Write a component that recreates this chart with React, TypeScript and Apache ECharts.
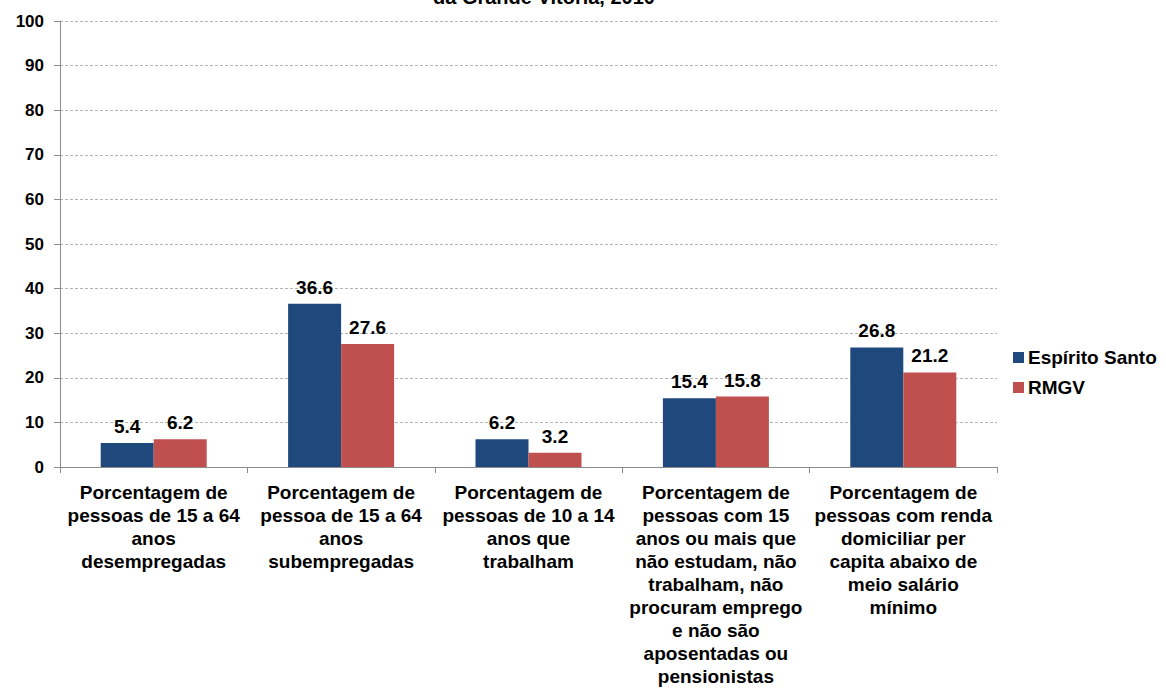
import React, { useEffect, useRef } from "react";
import * as echarts from "echarts";

const categories = [
  "Porcentagem de\npessoas de 15 a 64\nanos\ndesempregadas",
  "Porcentagem de\npessoa de 15 a 64\nanos\nsubempregadas",
  "Porcentagem de\npessoas de 10 a 14\nanos que\ntrabalham",
  "Porcentagem de\npessoas com 15\nanos ou mais que\nnão estudam, não\ntrabalham, não\nprocuram emprego\ne não são\naposentadas ou\npensionistas",
  "Porcentagem de\npessoas com renda\ndomiciliar per\ncapita abaixo de\nmeio salário\nmínimo",
];
const espiritoSanto = [5.4, 36.6, 6.2, 15.4, 26.8];
const rmgv = [6.2, 27.6, 3.2, 15.8, 21.2];
const titleText = "da Grande Vitória, 2010";

const FONT = "'Liberation Sans', Arial, sans-serif";

export default function App() {
  const ref = useRef<HTMLDivElement>(null);
  useEffect(() => {
    if (!ref.current) return;
    const chart = echarts.init(ref.current, null, { renderer: "svg" });
    const labelStyle = {
      show: true,
      position: "top" as const,
      distance: 7,
      fontFamily: FONT,
      fontWeight: "bold" as const,
      fontSize: 19,
      color: "#000",
      formatter: (p: any) => Number(p.value).toFixed(1),
    };
    chart.setOption({
      animation: false,
      backgroundColor: "#fff",
      textStyle: { fontFamily: FONT },
      graphic: [
        {
          type: "text",
          left: 433,
          top: -13,
          style: {
            text: titleText,
            font: `bold 20px ${FONT}`,
            fill: "#000",
          },
        },
      ],
      legend: {
        orient: "vertical",
        left: 1008,
        top: 343,
        itemWidth: 11,
        itemHeight: 11,
        itemGap: 11,
        icon: "rect",
        textStyle: {
          fontFamily: FONT,
          fontWeight: "bold",
          fontSize: 19,
          color: "#000",
          padding: [0, 0, 0, -1],
        },
        data: ["Espírito Santo", "RMGV"],
      },
      grid: { left: 60, right: 169, top: 21, bottom: 215 },
      xAxis: {
        type: "category",
        data: categories,
        axisLine: { lineStyle: { color: "#8c8c8c", width: 1 } },
        axisTick: { show: true, length: 6, lineStyle: { color: "#8c8c8c" } },
        axisLabel: {
          interval: 0,
          margin: 14,
          fontFamily: FONT,
          fontWeight: "bold",
          fontSize: 19,
          lineHeight: 23,
          color: "#000",
          align: "center",
        },
      },
      yAxis: {
        type: "value",
        min: 0,
        max: 100,
        interval: 10,
        axisLine: { show: true, lineStyle: { color: "#8c8c8c" } },
        axisTick: { show: true, length: 6, lineStyle: { color: "#8c8c8c" } },
        axisLabel: {
          margin: 16,
          fontFamily: FONT,
          fontWeight: "bold",
          fontSize: 17,
          color: "#000",
        },
        splitLine: {
          show: true,
          lineStyle: { color: "#b4b4b4", type: [3, 2], width: 1 },
        },
      },
      series: [
        {
          name: "Espírito Santo",
          type: "bar",
          data: espiritoSanto,
          barWidth: 53,
          barGap: "0%",
          itemStyle: { color: "#1F497D" },
          label: labelStyle,
        },
        {
          name: "RMGV",
          type: "bar",
          data: rmgv,
          barWidth: 53,
          barGap: "0%",
          itemStyle: { color: "#C0504D" },
          label: labelStyle,
        },
      ],
    });
    return () => chart.dispose();
  }, []);
  return <div ref={ref} style={{ width: 1166, height: 688, position: "absolute", left: 0, top: 0 }} />;
}
